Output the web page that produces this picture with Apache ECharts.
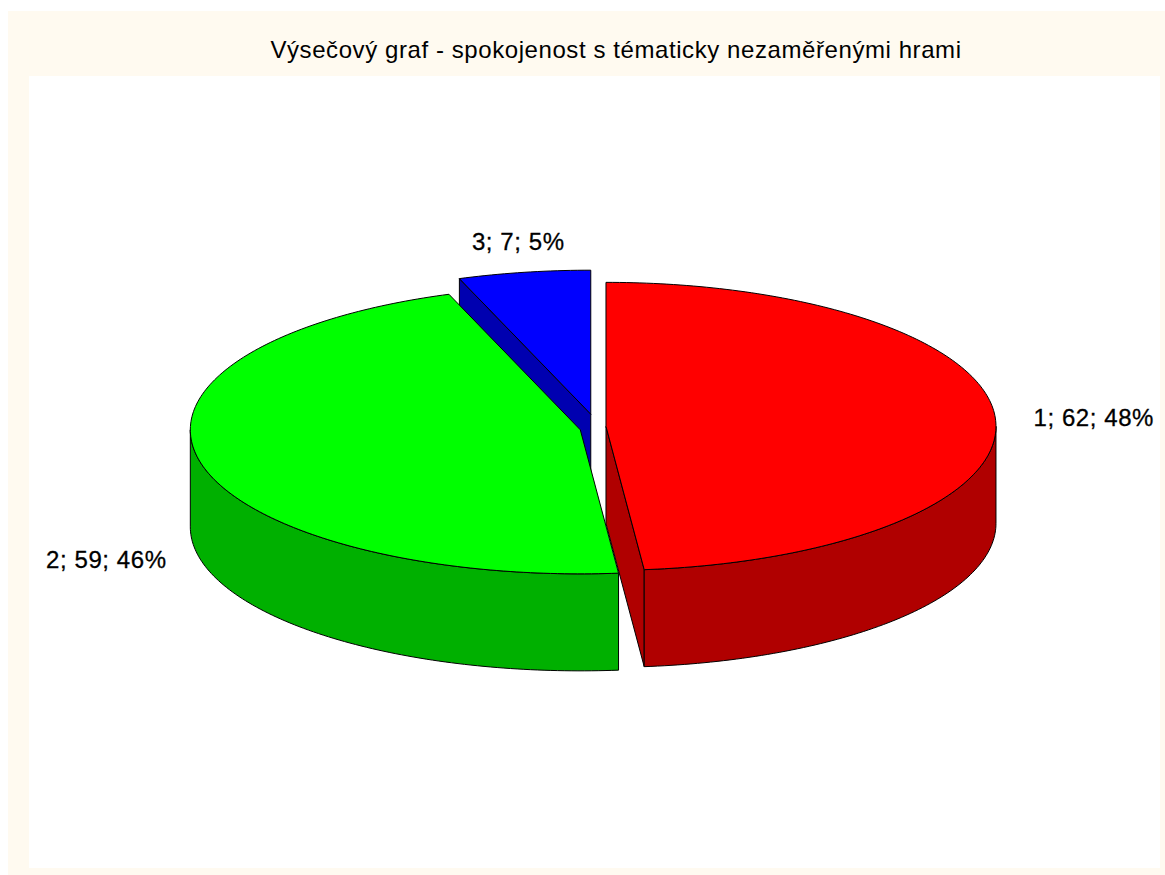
<!DOCTYPE html>
<html>
<head>
<meta charset="utf-8">
<title>Výsečový graf</title>
<style>
  html, body { margin: 0; padding: 0; background: #fff; }
  #chart { width: 1165px; height: 875px; }
  /* the original text is set a bit wider than plain Arial */
  #chart text { letter-spacing: 0.58px; }
</style>
<script src="https://cdn.jsdelivr.net/npm/echarts@6/dist/echarts.min.js"></script>
</head>
<body>
<div id="chart"></div>
<script>
var TITLE = 'Výsečový graf - spokojenost s tématicky nezaměřenými hrami';
var categories = ['1', '2', '3'];
var values = [62, 59, 7];
var topColors = ['#ff0000', '#00ff00', '#0000ff'];
var sideColors = ['#b00000', '#00b000', '#0000b0'];
// back to front, the green wedge covers the blue one
var paintOrder = [2, 0, 1];

var PIE = { cx: 593, cy: 427, rx: 390, ry: 144, depth: 97, explode: 13, labelGap: 34 };
var LABEL_NUDGE = [[4, 0], [0, -6], [0, 3]];
var FONT = '"Liberation Sans", Arial, sans-serif';
var RAD = Math.PI / 180;

var total = values.reduce(function (a, b) { return a + b; }, 0);

function rim(c, deg, drop) {
  return [
    c[0] + PIE.rx * Math.sin(deg * RAD),
    c[1] - PIE.ry * Math.cos(deg * RAD) + (drop || 0)
  ];
}

function arc(c, from, to, drop) {
  var pts = [], n = Math.max(2, Math.ceil(Math.abs(to - from))), i;
  for (i = 0; i <= n; i++) pts.push(rim(c, from + (to - from) * i / n, drop));
  return pts;
}

function poly(points, fill, z2) {
  return {
    type: 'polygon',
    z2: z2,
    shape: { points: points },
    style: { fill: fill, stroke: '#000', lineWidth: 1, lineJoin: 'round' }
  };
}

function renderSlice(params) {
  var i = params.dataIndex, before = 0, k;
  for (k = 0; k < i; k++) before += values[k];
  var a = before / total * 360;
  var b = (before + values[i]) / total * 360;
  var mid = (a + b) / 2;
  var c = [
    PIE.cx + PIE.explode * Math.sin(mid * RAD),
    PIE.cy - PIE.explode * Math.cos(mid * RAD)
  ];
  var z = paintOrder.indexOf(i) * 10;
  var d = PIE.depth;
  var kids = [];

  // cut faces, only the ones turned toward the viewer
  if (Math.sin(a * RAD) < -1e-6) {
    kids.push(poly([c, rim(c, a), rim(c, a, d), [c[0], c[1] + d]], sideColors[i], z));
  }
  if (Math.sin(b * RAD) > 1e-6) {
    kids.push(poly([c, rim(c, b), rim(c, b, d), [c[0], c[1] + d]], sideColors[i], z));
  }

  // front wall
  var w0 = Math.max(a, 90), w1 = Math.min(b, 270);
  if (w1 > w0) {
    kids.push(poly(arc(c, w0, w1).concat(arc(c, w1, w0, d)), sideColors[i], z + 1));
  }

  // top face
  kids.push(poly([c].concat(arc(c, a, b)), topColors[i], z + 2));

  // label
  var s = Math.sin(mid * RAD), co = Math.cos(mid * RAD);
  var pct = Math.round(values[i] / total * 100);
  kids.push({
    type: 'text',
    z2: 100,
    style: {
      text: categories[i] + '; ' + values[i] + '; ' + pct + '%',
      x: c[0] + (PIE.rx + PIE.labelGap) * s + LABEL_NUDGE[i][0],
      y: c[1] - (PIE.ry + PIE.labelGap) * co + (co < 0 ? d : 0) + LABEL_NUDGE[i][1],
      fill: '#000',
      stroke: '#000',
      lineWidth: 0.3,
      font: '24px ' + FONT,
      align: Math.abs(s) < 0.5 ? 'center' : (s > 0 ? 'left' : 'right'),
      verticalAlign: 'middle'
    }
  });

  return { type: 'group', children: kids };
}

var chart = echarts.init(document.getElementById('chart'), null, { renderer: 'svg' });
chart.setOption({
  animation: false,
  backgroundColor: '#ffffff',
  title: {
    text: TITLE,
    left: 611,
    top: 32,
    textAlign: 'center',
    textStyle: { color: '#000', fontSize: 24, fontWeight: 'normal', fontFamily: FONT }
  },
  graphic: [
    { type: 'rect', z: -2, silent: true, shape: { x: 8, y: 11, width: 1157, height: 864 }, style: { fill: '#fffaf0' } },
    { type: 'rect', z: -1, silent: true, shape: { x: 29, y: 76, width: 1131, height: 792 }, style: { fill: '#ffffff' } }
  ],
  series: [{
    type: 'custom',
    coordinateSystem: 'none',
    silent: true,
    renderItem: renderSlice,
    data: values
  }]
});
</script>
</body>
</html>
